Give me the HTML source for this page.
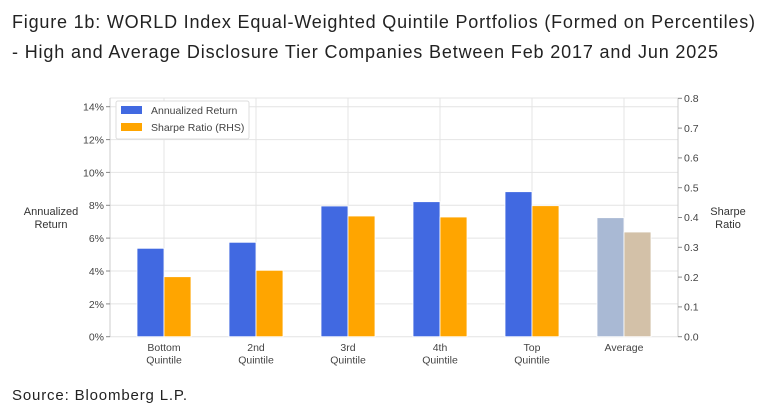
<!DOCTYPE html>
<html><head><style>
body{margin:0;background:#fff;font-family:"Liberation Sans",sans-serif;}
</style></head><body>
<svg width="772" height="413" xmlns="http://www.w3.org/2000/svg" font-family="Liberation Sans, sans-serif">
<rect width="772" height="413" fill="#fff"/>
<text x="12" y="28" font-size="18" fill="#222" textLength="743" lengthAdjust="spacing">Figure 1b: WORLD Index Equal-Weighted Quintile Portfolios (Formed on Percentiles)</text>
<text x="12" y="58" font-size="18" fill="#222" textLength="706" lengthAdjust="spacing">- High and Average Disclosure Tier Companies Between Feb 2017 and Jun 2025</text>
<text x="12" y="400" font-size="15" fill="#222" textLength="175" lengthAdjust="spacing">Source: Bloomberg L.P.</text>
<g stroke="#e4e4e4" stroke-width="1">
<line x1="110" x2="678" y1="98" y2="98"/>
<line x1="110" x2="678" y1="106.7" y2="106.7"/>
<line x1="110" x2="678" y1="139.6" y2="139.6"/>
<line x1="110" x2="678" y1="172.4" y2="172.4"/>
<line x1="110" x2="678" y1="205.3" y2="205.3"/>
<line x1="110" x2="678" y1="238.1" y2="238.1"/>
<line x1="110" x2="678" y1="271" y2="271"/>
<line x1="110" x2="678" y1="303.9" y2="303.9"/>
<line x1="110" x2="678" y1="336.7" y2="336.7"/>
<line x1="164" x2="164" y1="98" y2="337"/>
<line x1="256" x2="256" y1="98" y2="337"/>
<line x1="348" x2="348" y1="98" y2="337"/>
<line x1="440" x2="440" y1="98" y2="337"/>
<line x1="532" x2="532" y1="98" y2="337"/>
<line x1="624" x2="624" y1="98" y2="337"/>
</g>
<line x1="110" x2="110" y1="98" y2="337" stroke="#ccc"/>
<line x1="678" x2="678" y1="98" y2="337" stroke="#ccc"/>
<g stroke="#fff" stroke-width="0.8">
<rect x="137" y="248.3" width="27" height="88.4" fill="#4169E1"/>
<rect x="164" y="276.7" width="27" height="60" fill="#FFA500"/>
<rect x="229" y="242.3" width="27" height="94.4" fill="#4169E1"/>
<rect x="256" y="270.3" width="27" height="66.4" fill="#FFA500"/>
<rect x="321" y="206" width="27" height="130.7" fill="#4169E1"/>
<rect x="348" y="216" width="27" height="120.7" fill="#FFA500"/>
<rect x="413" y="201.7" width="27" height="135" fill="#4169E1"/>
<rect x="440" y="217" width="27" height="119.7" fill="#FFA500"/>
<rect x="505" y="191.7" width="27" height="145" fill="#4169E1"/>
<rect x="532" y="205.7" width="27" height="131" fill="#FFA500"/>
<rect x="597" y="217.7" width="27" height="119" fill="#A9B9D4"/>
<rect x="624" y="232" width="27" height="104.7" fill="#D3C1A8"/>
</g>
<g font-size="10.5" fill="#444" text-anchor="end">
<text x="104" y="110.5">14%</text><text x="104" y="143.5">12%</text><text x="104" y="176.3">10%</text>
<text x="104" y="209.2">8%</text><text x="104" y="242">6%</text><text x="104" y="275">4%</text>
<text x="104" y="307.8">2%</text><text x="104" y="340.6">0%</text>
</g>
<g stroke="#888"><line x1="106" x2="110" y1="106.7" y2="106.7"/><line x1="106" x2="110" y1="139.6" y2="139.6"/><line x1="106" x2="110" y1="172.4" y2="172.4"/><line x1="106" x2="110" y1="205.3" y2="205.3"/><line x1="106" x2="110" y1="238.1" y2="238.1"/><line x1="106" x2="110" y1="271" y2="271"/><line x1="106" x2="110" y1="303.9" y2="303.9"/><line x1="106" x2="110" y1="336.7" y2="336.7"/>
<line x1="678" x2="682" y1="98.3" y2="98.3"/><line x1="678" x2="682" y1="128.1" y2="128.1"/><line x1="678" x2="682" y1="157.9" y2="157.9"/><line x1="678" x2="682" y1="187.7" y2="187.7"/><line x1="678" x2="682" y1="217.5" y2="217.5"/><line x1="678" x2="682" y1="247.3" y2="247.3"/><line x1="678" x2="682" y1="277.1" y2="277.1"/><line x1="678" x2="682" y1="306.9" y2="306.9"/><line x1="678" x2="682" y1="336.7" y2="336.7"/></g>
<g font-size="10.5" fill="#444">
<text x="684" y="102">0.8</text><text x="684" y="131.8">0.7</text><text x="684" y="161.6">0.6</text><text x="684" y="191.4">0.5</text><text x="684" y="221.2">0.4</text><text x="684" y="251">0.3</text><text x="684" y="280.8">0.2</text><text x="684" y="310.6">0.1</text><text x="684" y="340.4">0.0</text>
</g>
<g font-size="10.5" fill="#444" text-anchor="middle">
<text x="164" y="351">Bottom</text><text x="164" y="363.5">Quintile</text>
<text x="256" y="351">2nd</text><text x="256" y="363.5">Quintile</text>
<text x="348" y="351">3rd</text><text x="348" y="363.5">Quintile</text>
<text x="440" y="351">4th</text><text x="440" y="363.5">Quintile</text>
<text x="532" y="351">Top</text><text x="532" y="363.5">Quintile</text>
<text x="624" y="351">Average</text>
</g>
<g font-size="11" fill="#333" text-anchor="middle">
<text x="51" y="215">Annualized</text><text x="51" y="228">Return</text>
<text x="728" y="215">Sharpe</text><text x="728" y="228">Ratio</text>
</g>
<rect x="116" y="101" width="133" height="38" fill="#fff" stroke="#ddd" rx="2"/>
<rect x="121" y="106" width="21" height="8" fill="#4169E1"/>
<rect x="121" y="123" width="21" height="8" fill="#FFA500"/>
<g font-size="10.5" fill="#444"><text x="151" y="114">Annualized Return</text><text x="151" y="131">Sharpe Ratio (RHS)</text></g>
</svg>
</body></html>
